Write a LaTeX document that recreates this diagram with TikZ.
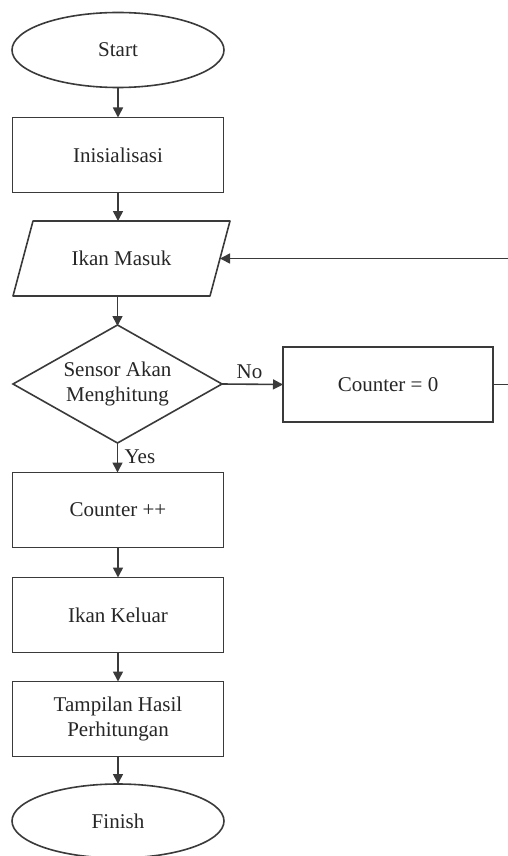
\documentclass[tikz,border=0pt]{standalone}
\usepackage{fontspec}
\setmainfont{Liberation Serif}
\usetikzlibrary{shapes.geometric,arrows.meta}
\definecolor{ln}{HTML}{3A3A3A}
\begin{document}
\begin{tikzpicture}[x=1pt,y=-1pt,
  every node/.style={font=\fontsize{21}{25}\selectfont, text=black!85},
  boxst/.style={draw=ln, line width=1.6pt, fill=white, minimum width=211pt, minimum height=75pt, outer sep=0pt, align=center},
  termst/.style={draw=ln, line width=1.6pt, fill=white, ellipse, minimum width=212pt, minimum height=75pt, inner sep=0pt, outer sep=0pt},
  decst/.style={draw=ln, line width=1.6pt, fill=white, diamond, aspect=1.77, minimum width=209pt, minimum height=118pt, inner sep=0pt, outer sep=0pt, align=center},
  flow/.style={draw=ln, line width=1.6pt, -{Triangle[length=10pt,width=10pt]}},
  lbl/.style={font=\fontsize{21}{24}\selectfont}
]
\useasboundingbox (0,0) rectangle (507,856);
\node[termst] (start) at (118,50) {Start};
\node[boxst] (init) at (118,155) {Inisialisasi};
% parallelogram (input)
\node[draw=none, minimum width=197pt, minimum height=75pt, outer sep=0pt] (masuk) at (121.5,258.5) {Ikan Masuk};
\draw[draw=ln, line width=1.6pt, line join=round] ([xshift=10pt]masuk.north west) -- ([xshift=10pt]masuk.north east) -- ([xshift=-10pt]masuk.south east) -- ([xshift=-10pt]masuk.south west) -- cycle;
\node[decst] (sensor) at (117.5,384) {Sensor Akan\\Menghitung};
\node[boxst, minimum width=210pt] (c0) at (388,384.5) {Counter = 0};
\node[boxst] (cpp) at (118,510) {Counter ++};
\node[boxst] (keluar) at (118,615) {Ikan Keluar};
\node[boxst] (hasil) at (118,719) {Tampilan Hasil\\Perhitungan};
\node[termst, minimum height=74pt] (finish) at (118,821) {Finish};

\draw[flow] (start) -- (init);
\draw[flow] (init) -- (init |- masuk.north);
\draw[flow] (masuk.south -| sensor.north) -- ([yshift=-1pt]sensor.north);
\draw[flow] (sensor.east) -- node[lbl, above, pos=0.45, yshift=1pt] {No} (c0.west);
\draw[flow] (c0.east) -- ++(22,0) |- (masuk.east);
\draw[flow] (sensor.south) -- node[lbl, right, pos=0.45, xshift=3pt] {Yes} (sensor.south |- cpp.north);
\draw[flow] (cpp) -- (keluar);
\draw[flow] (keluar) -- (hasil);
\draw[flow] (hasil) -- (finish);
\end{tikzpicture}
\end{document}
